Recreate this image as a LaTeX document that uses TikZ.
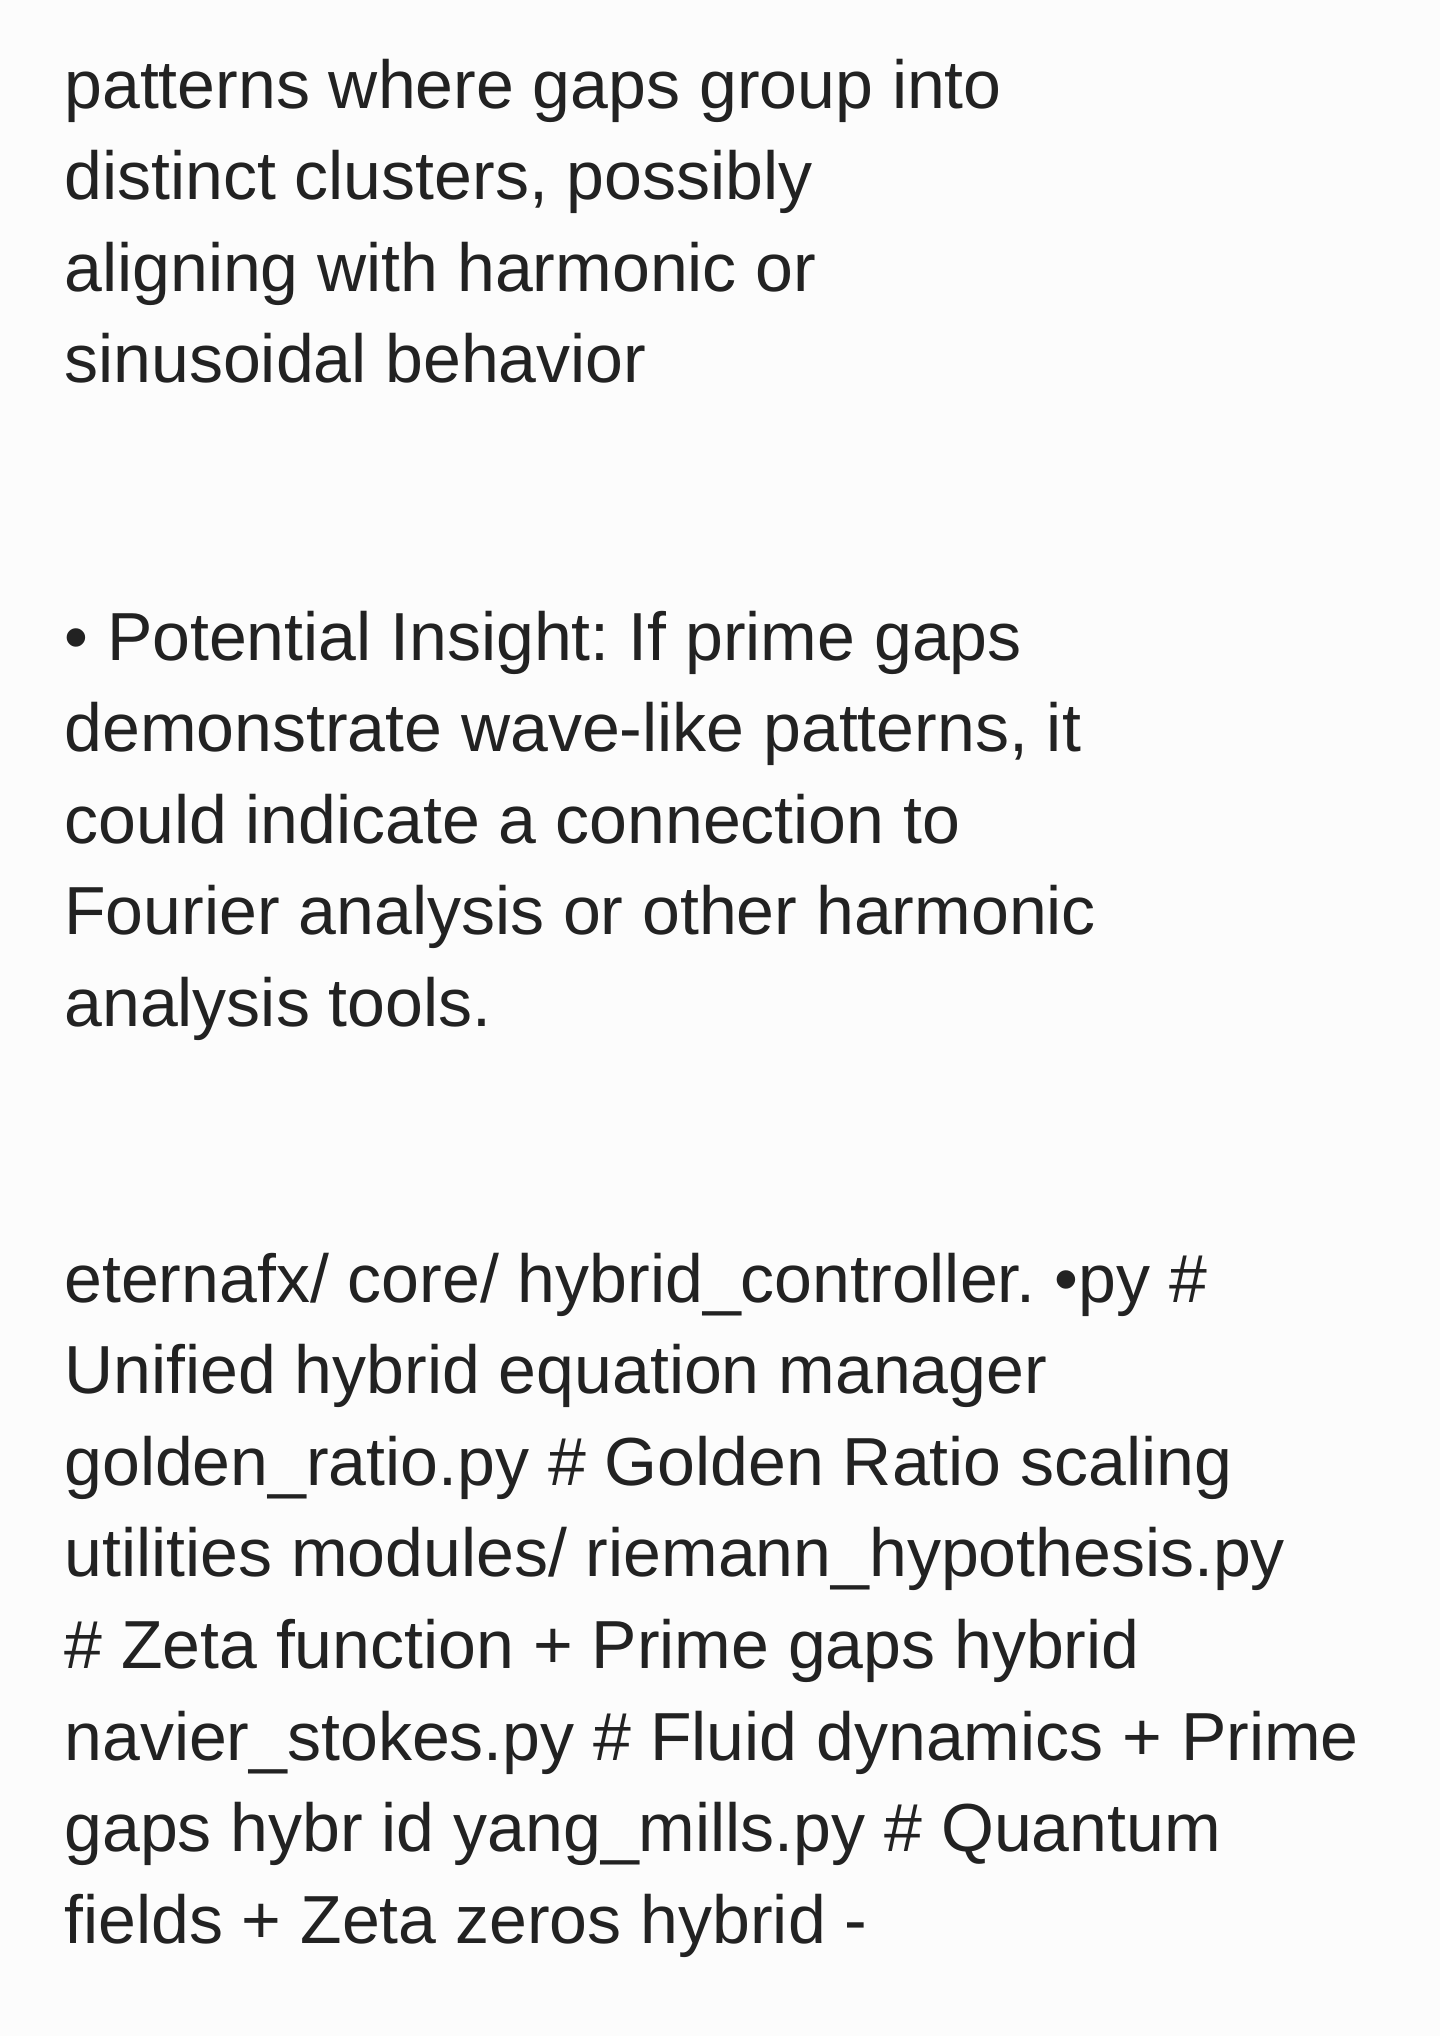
\documentclass[tikz,border=0pt]{standalone}
\usepackage{fontspec}
\setmainfont{Liberation Sans}
\frenchspacing
\definecolor{inkgray}{HTML}{222222}
\definecolor{pagewhite}{HTML}{FCFCFC}
\begin{document}
\begin{tikzpicture}[x=0.5pt, y=-0.5pt, every node/.style={anchor=base west, inner sep=0pt, text=inkgray, font=\fontsize{34}{45}\selectfont}]
      \fill[pagewhite] (0,0) rectangle (1440,2036);
      \useasboundingbox (0,0) rectangle (1440,2036);

      \node (pa1) at (64,108) {patterns where gaps group into};
      \node (pa2) at (64,199.6) {distinct clusters, possibly};
      \node (pa3) at (64,291.2) {aligning with harmonic or};
      \node (pa4) at (64,382.8) {sinusoidal behavior};

      \node (in1) at (64,660) {• Potential Insight: If prime gaps};
      \node (in2) at (64,751.6) {demonstrate wave-like patterns, it};
      \node (in3) at (64,843.2) {could indicate a connection to};
      \node (in4) at (64,934.8) {Fourier analysis or other harmonic};
      \node (in5) at (64,1026.4) {analysis tools.};

      \node (tr1) at (64,1302) {eternafx/ core/ hybrid\_controller. •py \#};
      \node (tr2) at (64,1393.6) {Unified hybrid equation manager};
      \node (tr3) at (64,1485.2) {golden\_ratio.py \# Golden Ratio scaling};
      \node (tr4) at (64,1576.8) {utilities modules/ riemann\_hypothesis.py};
      \node (tr5) at (64,1668.4) {\# Zeta function + Prime gaps hybrid};
      \node (tr6) at (64,1760) {navier\_stokes.py \# Fluid dynamics + Prime};
      \node (tr7) at (64,1851.6) {gaps hybr id yang\_mills.py \# Quantum};
      \node (tr8) at (64,1943.2) {fields + Zeta zeros hybrid -};
    \end{tikzpicture}
\end{document}
